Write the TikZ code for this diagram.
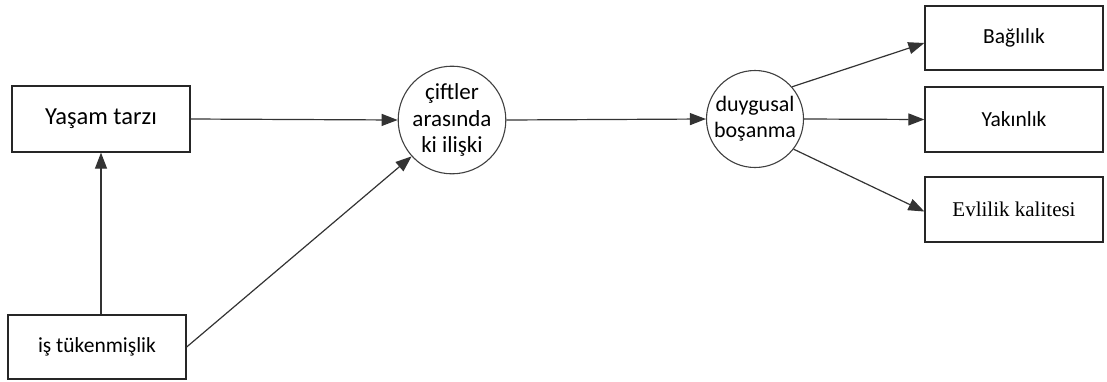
\documentclass[tikz,border=0pt]{standalone}
\usepackage{fontspec}
\setmainfont{Carlito}
\newfontfamily\serifface{Liberation Serif}
\usetikzlibrary{arrows.meta}
\begin{document}
\begin{tikzpicture}[x=1pt,y=-1pt,
  box/.style={draw=black!85,line width=1.3pt,minimum width=178pt,inner sep=0pt,font=\fontsize{21.5}{25}\selectfont},
  circ/.style={draw=black!75,line width=1.1pt,circle,minimum size=97pt,inner sep=0pt,align=center,font=\fontsize{22}{26}\selectfont},
  arr/.style={draw=black!80,line width=1.2pt,-{Triangle[length=16pt,width=12pt]}},
  ln/.style={draw=black!80,line width=1.2pt}]
\useasboundingbox (0,0) rectangle (1107,381);
\node[box,minimum height=66pt,font=\fontsize{24.5}{28}\selectfont] (yasam) at (101,119) {Yaşam tarzı};
\node[box,minimum height=64pt] (is) at (97,347) {iş tükenmişlik};
\node[circ,font=\fontsize{23}{26.5}\selectfont] (c1) at (452,120) {çiftler\\arasında\\ki ilişki};
\node[circ] (c2) at (755,119) {duygusal\\boşanma};
\node[box,minimum height=64pt] (bag) at (1014,38) {Bağlılık};
\node[box,minimum height=65pt] (yak) at (1014,119.5) {Yakınlık};
\node[box,minimum height=65pt,font=\serifface\fontsize{21}{24}\selectfont] (evl) at (1014,209.5) {Evlilik kalitesi};
\draw[arr] (yasam.east) -- (c1.west);
\draw[arr] (is.north -| yasam.south) -- (yasam.south);
\draw[arr] (is.east) -- (c1.222);
\draw[arr] (c1.east) -- (c2.west);
\draw[arr] (c2.41) -- ([yshift=-5pt]bag.west);
\draw[arr] (c2.east) -- (yak.west);
\draw[arr] (c2.-38) -- ([yshift=-2pt]evl.west);
\end{tikzpicture}
\end{document}
